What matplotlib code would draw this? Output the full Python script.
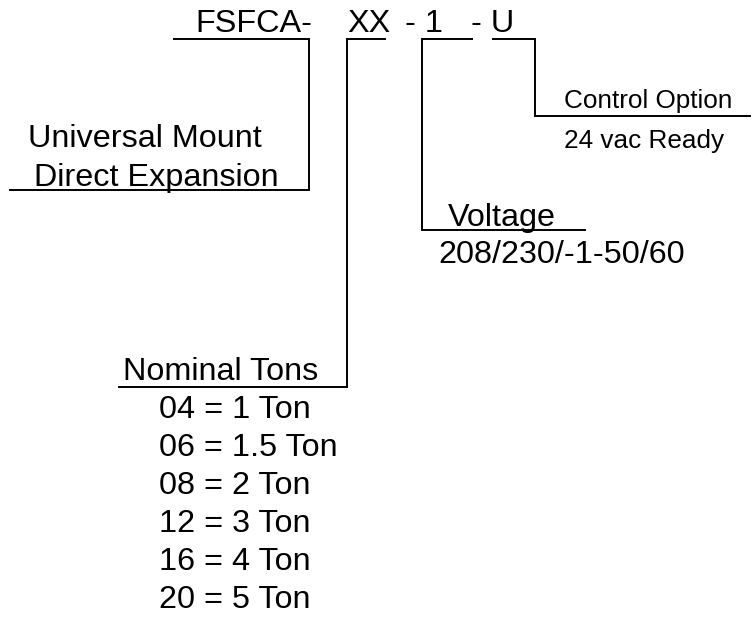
import matplotlib.pyplot as plt

plt.rcParams['font.family'] = ['Liberation Sans', 'DejaVu Sans']

# model code parts across the top
code_parts = ["FSFCA-", "XX", "- 1", "- U"]
code_x = [195, 347, 405, 471]

# leaders: (start x, end x at top, drop x, bottom y, far end x)
leader_top_x0 = [173, 347, 422, 492]
leader_top_x1 = [309, 386, 473, 535]
leader_drop_x = [309, 347, 422, 535]
leader_bot_y = [190, 387, 230, 116]
leader_bot_x = [10, 119, 585, 750]

# labels
big_labels = ["Universal Mount", "Direct Expansion", "Voltage", "208/230/-1-50/60", "Nominal Tons"]
big_x = [28, 34, 448, 438, 123]
big_y = [147, 186, 226, 263, 380]

small_labels = ["Control Option", "24 vac Ready"]
small_x = [564, 564]
small_y = [108, 148]

tons = ["04 = 1 Ton", "06 = 1.5 Ton", "08 = 2 Ton", "12 = 3 Ton", "16 = 4 Ton", "20 = 5 Ton"]
tons_y = [418, 456, 494, 532, 570, 608]

fig = plt.figure(figsize=(7.52, 6.17), dpi=100)
ax = fig.add_axes([0, 0, 1, 1])
ax.set_xlim(0, 752)
ax.set_ylim(617, 0)
ax.axis('off')

big = 23.3
small = 18.8

for t, x in zip(code_parts, code_x):
    ax.text(x, 32, t, fontsize=big, va='baseline', ha='left')

for x0, x1, xd, yb, xb in zip(leader_top_x0, leader_top_x1, leader_drop_x, leader_bot_y, leader_bot_x):
    ax.plot([x0, x1], [39, 39], color='black', lw=1.4, solid_capstyle='butt')
    ax.plot([xd, xd, xb], [39, yb, yb], color='black', lw=1.4, solid_joinstyle='miter')

for t, x, y in zip(big_labels, big_x, big_y):
    ax.text(x, y, t, fontsize=big, va='baseline', ha='left')

for t, x, y in zip(small_labels, small_x, small_y):
    ax.text(x, y, t, fontsize=small, va='baseline', ha='left')

for t, y in zip(tons, tons_y):
    ax.text(159, y, t, fontsize=big, va='baseline', ha='left')

fig.savefig("out.png", dpi=100)
